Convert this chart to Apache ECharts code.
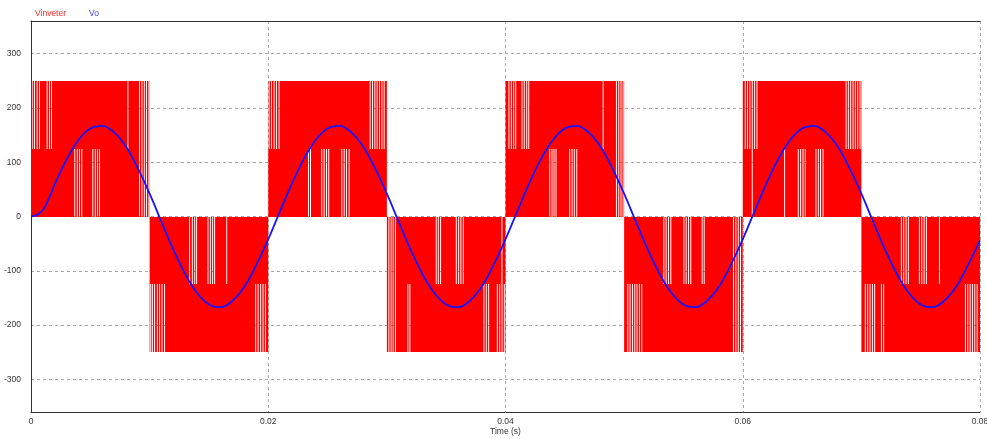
<!DOCTYPE html>
<html>
<head>
<meta charset="utf-8">
<script src="https://cdn.jsdelivr.net/npm/echarts@6/dist/echarts.min.js"></script>
<style>
html,body{margin:0;padding:0;background:#fff;}
#chart{width:987px;height:439px;}
</style>
</head>
<body>
<div id="chart"></div>
<script>
// ---------------- data ----------------
const seriesNames = ['Vinveter', 'Vo'];
const xTickLabels = [0, 0.02, 0.04, 0.06, 0.08];
const yTickLabels = [-300, -200, -100, 0, 100, 200, 300];
const xRange = [0, 0.08];
const yRange = [-360, 360];
const xAxisName = 'Time (s)';

// inverter output levels (V)
const levelMid = 125;
const levelHigh = 250;

// half cycles of the inverter output (ms) and their polarity
const halfCycleStartsMs = [0, 10, 20, 30, 40, 50, 60, 70, 80];
const halfCyclePolarity = [1, -1, 1, -1, 1, -1, 1, -1];
// duration of one short switching notch (ms)
const notchMs = 0.08;

// notches where the output stays between 0 and +/-125 (white above 125)
const outerNotchesMs = [
  0.06, 0.25, 0.48, 0.68, 1.32, 1.52, 1.69, 8.13,
  10.05, 10.19, 10.38, 10.61, 10.80, 11.00, 11.22, 18.90, 19.10, 19.32, 19.52, 19.72,
  20.03, 20.23, 20.45, 20.65, 20.87, 28.55, 28.75, 28.95, 29.14, 29.34, 29.54, 29.73,
  31.73, 31.90, 38.14, 38.34, 38.54, 39.27, 39.47, 39.86,
  40.25, 40.45, 40.65, 40.82, 41.35, 41.54, 41.75, 41.92, 48.19,
  50.27, 50.46, 50.66, 50.86, 51.05, 51.25, 51.45,
  60.17, 60.36, 60.56, 60.96, 61.16, 68.67, 68.86, 69.06, 69.26, 69.45, 69.65, 69.85,
  70.29, 70.49, 70.69, 70.89, 71.08, 71.65, 71.84, 78.73, 78.93, 79.13, 79.32, 79.52, 79.72
];
// notches where the output stays between +/-125 and +/-250 (white below 125)
const innerNotchesMs = [
  3.65, 3.86, 4.05, 4.24, 5.17, 5.38, 5.57, 5.74,
  13.33, 13.56, 13.76, 13.92, 14.88, 15.08, 15.27, 15.44, 16.46,
  23.35, 23.52, 24.47, 24.67, 24.87, 25.06, 26.16, 26.36, 26.56, 26.78,
  34.12, 34.29, 34.49, 35.81, 36.01, 36.20, 36.40,
  43.69, 43.88, 44.05, 44.22, 45.37, 45.57, 45.76, 45.97,
  53.31, 53.50, 53.70, 53.90, 55.00, 55.19, 55.39, 55.58, 56.54, 56.71,
  63.49, 64.64, 64.84, 65.04, 65.23, 66.13, 66.33, 66.52, 66.73,
  73.33, 73.53, 73.73, 73.92, 74.85, 75.05, 75.25, 75.44, 76.54
];
// notches where the output stays at 0
const zeroNotchesMs = [
  9.11, 9.31, 9.51, 9.70, 9.90,
  30.13, 30.32, 30.49, 30.68, 39.66,
  49.31, 49.51, 49.70, 49.88,
  59.18, 59.38, 59.58, 59.77,
  60.76
];

// Vo (filtered output) samples
const voTimesMs = [0, 0.5, 1, 1.5, 2, 3, 4, 5, 6, 7, 8, 9, 10,
  11, 12, 13, 14, 15, 16, 17, 18, 19, 20,
  21, 22, 23, 24, 25, 26, 27, 28, 29, 30,
  31, 32, 33, 34, 35, 36, 37, 38, 39, 40,
  41, 42, 43, 44, 45, 46, 47, 48, 49, 50,
  51, 52, 53, 54, 55, 56, 57, 58, 59, 60,
  61, 62, 63, 64, 65, 66, 67, 68, 69, 70,
  71, 72, 73, 74, 75, 76, 77, 78, 79, 80];
const voValues = [0, 3, 12, 33, 59, 105, 141, 162, 167, 155, 129, 89, 42,
  -10, -61, -106, -141, -162, -167, -155, -129, -89, -42,
  10, 61, 106, 141, 162, 167, 155, 129, 89, 42,
  -10, -61, -106, -141, -162, -167, -155, -129, -89, -42,
  10, 61, 106, 141, 162, 167, 155, 129, 89, 42,
  -10, -61, -106, -141, -162, -167, -155, -129, -89, -42,
  10, 61, 106, 141, 162, 167, 155, 129, 89, 42,
  -10, -61, -106, -141, -162, -167, -155, -129, -89, -44];

// ---------------- build the band segments ----------------
function freeSegments(s, e, notches) {
  const g = notches.filter(t => t >= s && t < e).sort((a, b) => a - b);
  const out = [];
  let cur = s;
  g.forEach(t => {
    if (t > cur) out.push([cur, t]);
    cur = Math.max(cur, t + notchMs);
  });
  if (cur < e) out.push([cur, e]);
  return out;
}
const inverterRects = [];
for (let i = 0; i < halfCyclePolarity.length; i++) {
  const s = halfCycleStartsMs[i], e = halfCycleStartsMs[i + 1], p = halfCyclePolarity[i];
  const upper = freeSegments(s, e, outerNotchesMs.concat(zeroNotchesMs));
  const lower = freeSegments(s, e, innerNotchesMs.concat(zeroNotchesMs));
  upper.forEach(([a, b]) => {
    const v1 = p * levelMid, v2 = p * levelHigh;
    inverterRects.push([a / 1000, b / 1000, Math.min(v1, v2), Math.max(v1, v2)]);
  });
  lower.forEach(([a, b]) => {
    const v1 = 0, v2 = p * levelMid;
    inverterRects.push([a / 1000, b / 1000, Math.min(v1, v2), Math.max(v1, v2)]);
  });
}
const voData = voTimesMs.map((t, i) => [t / 1000, voValues[i]]);

// ---------------- chart ----------------
const chart = echarts.init(document.getElementById('chart'), null, {renderer: 'canvas'});
const fontFamily = '"Liberation Sans", Arial, sans-serif';
const labelColor = '#333';
const gridLine = {show: true, lineStyle: {color: '#a8a8a8', type: [3, 3], width: 1}};

chart.setOption({
  animation: false,
  backgroundColor: '#fff',
  legend: {
    left: 25, top: 4,
    icon: 'none', itemWidth: 0, itemHeight: 8, itemGap: 18,
    textStyle: {fontFamily: fontFamily, fontSize: 8.5},
    data: [
      {name: seriesNames[0], textStyle: {color: '#ff2a2a'}},
      {name: seriesNames[1], textStyle: {color: '#3a3aff'}}
    ],
    selectedMode: false
  },
  grid: {left: 31, right: 7, top: 21, bottom: 27, containLabel: false, outerBoundsMode: 'none'},
  xAxis: [{
    type: 'value', min: xRange[0], max: xRange[1], interval: 0.02,
    name: xAxisName, nameLocation: 'middle', nameGap: 15, nameMoveOverlap: false,
    nameTextStyle: {fontFamily: fontFamily, fontSize: 8.5, color: labelColor},
    axisLine: {show: true, onZero: false, lineStyle: {color: '#333', width: 1}},
    axisTick: {show: false},
    axisLabel: {fontFamily: fontFamily, fontSize: 8.5, color: labelColor, margin: 5,
      customValues: xTickLabels, formatter: v => String(+v.toFixed(2))},
    splitLine: gridLine
  }, {
    type: 'value', position: 'top', min: xRange[0], max: xRange[1],
    axisLine: {show: true, onZero: false, lineStyle: {color: '#333', width: 1}},
    axisTick: {show: false}, axisLabel: {show: false}, splitLine: {show: false}
  }],
  yAxis: {
    type: 'value', min: yRange[0], max: yRange[1],
    axisLine: {show: true, onZero: false, lineStyle: {color: '#333', width: 1}},
    axisTick: {show: false, customValues: yTickLabels},
    axisLabel: {fontFamily: fontFamily, fontSize: 8.5, color: labelColor, margin: 10,
      customValues: yTickLabels},
    splitLine: gridLine
  },
  series: [{
    name: seriesNames[0],
    type: 'custom',
    xAxisIndex: 0,
    z: 2,
    itemStyle: {color: '#ff0000'},
    encode: {x: [0, 1], y: [2, 3]},
    data: inverterRects,
    renderItem: function (params, api) {
      const a = api.coord([api.value(0), api.value(3)]);
      const b = api.coord([api.value(1), api.value(2)]);
      const y0 = Math.round(a[1]), y1 = Math.round(b[1]);
      return {
        type: 'rect',
        shape: {x: a[0], y: y0, width: b[0] - a[0], height: y1 - y0},
        style: {fill: '#ff0000'}
      };
    }
  }, {
    name: seriesNames[1],
    type: 'line',
    xAxisIndex: 0,
    z: 3,
    data: voData,
    smooth: 0.4,
    showSymbol: false,
    itemStyle: {color: '#1414ff'},
    lineStyle: {color: '#1414ff', width: 1.8}
  }]
});
</script>
</body>
</html>
